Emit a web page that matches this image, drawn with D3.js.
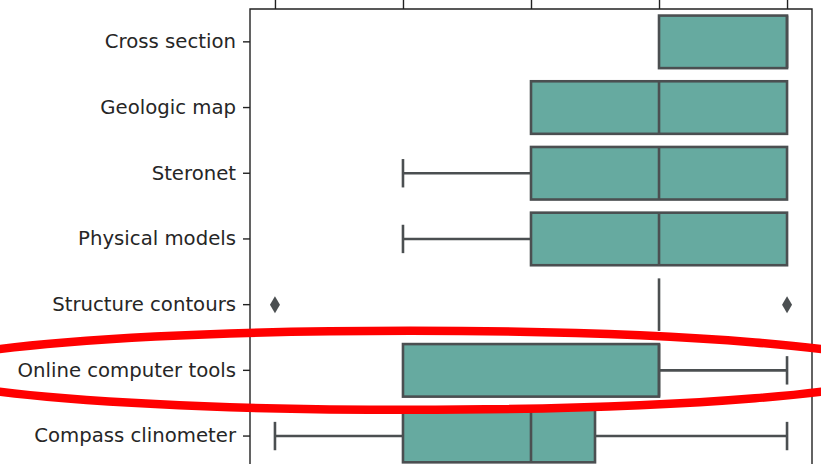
<!DOCTYPE html>
<html>
<head>
<meta charset="utf-8">
<script src="https://cdn.jsdelivr.net/npm/d3@7"></script>
<style>
  html, body { margin: 0; padding: 0; background: #fff; overflow: hidden; }
  svg { display: block; }
</style>
</head>
<body>
<svg id="chart" width="821" height="464"></svg>
<script>
// Survey ratings per tool (1–5), summarised as box-plot statistics
const categories = [
  "Cross section",
  "Geologic map",
  "Steronet",
  "Physical models",
  "Structure contours",
  "Online computer tools",
  "Compass clinometer"
];
const whiskerLow  = [4, 3, 2, 2, 4, 2, 1];
const quartile1   = [4, 3, 3, 3, 4, 2, 2];
const medians     = [5, 4, 4, 4, 4, 4, 3];
const quartile3   = [5, 5, 5, 5, 4, 4, 3.5];
const whiskerHigh = [5, 5, 5, 5, 4, 5, 5];
const outliers    = [[], [], [], [], [1, 5], [], []];
const xTicks      = [1, 2, 3, 4, 5];
const highlighted = "Online computer tools";

const boxFill = "#66aaa0";
const lineGray = "#4b4f51";

const svg = d3.select("#chart");
const plotLeft = 250, plotRight = 812, plotTop = 9;
const band = 65.7;

const x = d3.scaleLinear().domain([0.805, 5.195]).range([plotLeft, plotRight]);
const y = d3.scaleBand().domain(categories)
  .range([plotTop, plotTop + band * categories.length])
  .paddingInner(0).paddingOuter(0);
const boxH = y.bandwidth() * 0.8;
const capH = boxH * 0.54;

const rows = categories.map((c, i) => ({
  name: c,
  lo: whiskerLow[i], q1: quartile1[i], med: medians[i], q3: quartile3[i], hi: whiskerHigh[i],
  out: outliers[i]
}));

const g = svg.append("g");

// whiskers and caps
rows.forEach(d => {
  const cy = y(d.name) + y.bandwidth() / 2;
  const segs = [];
  if (d.lo < d.q1) segs.push([d.lo, d.q1]);
  if (d.hi > d.q3) segs.push([d.q3, d.hi]);
  segs.forEach(([a, b]) => {
    g.append("line").attr("x1", x(a)).attr("x2", x(b)).attr("y1", cy).attr("y2", cy)
      .attr("stroke", lineGray).attr("stroke-width", 2.6);
  });
  if (d.lo < d.q1) {
    g.append("line").attr("x1", x(d.lo)).attr("x2", x(d.lo))
      .attr("y1", cy - capH / 2).attr("y2", cy + capH / 2)
      .attr("stroke", lineGray).attr("stroke-width", 2.6);
  }
  if (d.hi > d.q3) {
    g.append("line").attr("x1", x(d.hi)).attr("x2", x(d.hi))
      .attr("y1", cy - capH / 2).attr("y2", cy + capH / 2)
      .attr("stroke", lineGray).attr("stroke-width", 2.6);
  }
});

// boxes
g.selectAll("rect.box").data(rows).join("rect")
  .attr("class", "box")
  .attr("x", d => x(d.q1))
  .attr("width", d => x(d.q3) - x(d.q1))
  .attr("y", d => y(d.name) + (y.bandwidth() - boxH) / 2)
  .attr("height", boxH)
  .attr("fill", boxFill)
  .attr("stroke", lineGray)
  .attr("stroke-width", 2.6);

// medians
g.selectAll("line.median").data(rows).join("line")
  .attr("class", "median")
  .attr("x1", d => x(d.med)).attr("x2", d => x(d.med))
  .attr("y1", d => y(d.name) + (y.bandwidth() - boxH) / 2)
  .attr("y2", d => y(d.name) + (y.bandwidth() + boxH) / 2)
  .attr("stroke", lineGray).attr("stroke-width", 2.6);

// outliers as thin diamonds
const diamond = "M0,-8.5L5,0L0,8.5L-5,0Z";
rows.forEach(d => {
  const cy = y(d.name) + y.bandwidth() / 2;
  d.out.forEach(v => {
    g.append("path").attr("d", diamond)
      .attr("transform", `translate(${x(v)},${cy})`)
      .attr("fill", lineGray);
  });
});

// axes
const yAxis = d3.axisLeft(y).tickSize(7).tickPadding(7);
const yg = svg.append("g").attr("transform", `translate(${plotLeft},0)`).call(yAxis);
yg.select(".domain").remove();
yg.selectAll(".tick line").attr("stroke", "#222").attr("stroke-width", 1.4);
yg.selectAll(".tick text")
  .attr("font-family", "DejaVu Sans")
  .attr("font-size", "19.7px")
  .attr("fill", "#262626");

const xAxis = d3.axisTop(x).tickValues(xTicks).tickSize(9).tickFormat("");
const xg = svg.append("g").attr("transform", `translate(0,${plotTop})`).call(xAxis);
xg.select(".domain").remove();
xg.selectAll(".tick line").attr("stroke", "#222").attr("stroke-width", 1.4);

// frame
const plotBottom = 470;
svg.append("path")
  .attr("d", `M${plotLeft},${plotBottom}L${plotLeft},${plotTop}L${plotRight},${plotTop}L${plotRight},${plotBottom}`)
  .attr("fill", "none").attr("stroke", "#222").attr("stroke-width", 1.4);

// highlight ring around one tool
const hy = y(highlighted) + y.bandwidth() / 2;
svg.append("ellipse")
  .attr("cx", 410).attr("cy", hy)
  .attr("rx", 488).attr("ry", 39.5)
  .attr("fill", "none").attr("stroke", "#ff0000").attr("stroke-width", 8.5);
</script>
</body>
</html>
